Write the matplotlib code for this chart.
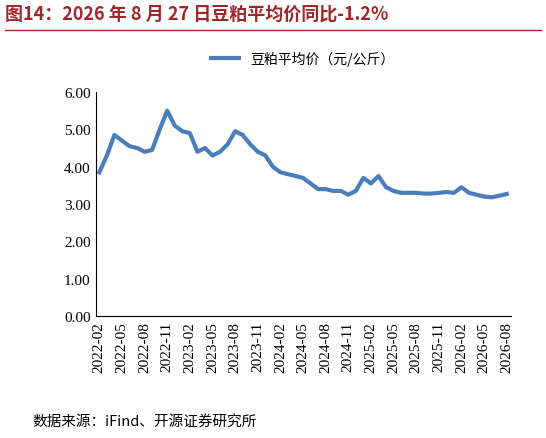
import matplotlib.pyplot as plt
import numpy as np

plt.rcParams['font.family'] = ['Noto Sans CJK SC', 'DejaVu Sans']

months = ['2022-02', '2022-03', '2022-04', '2022-05', '2022-06', '2022-07', '2022-08', '2022-09',
          '2022-10', '2022-11', '2022-12', '2023-01', '2023-02', '2023-03', '2023-04', '2023-05',
          '2023-06', '2023-07', '2023-08', '2023-09', '2023-10', '2023-11', '2023-12', '2024-01',
          '2024-02', '2024-03', '2024-04', '2024-05', '2024-06', '2024-07', '2024-08', '2024-09',
          '2024-10', '2024-11', '2024-12', '2025-01', '2025-02', '2025-03', '2025-04', '2025-05',
          '2025-06', '2025-07', '2025-08', '2025-09', '2025-10', '2025-11', '2025-12', '2026-01',
          '2026-02', '2026-03', '2026-04', '2026-05', '2026-06', '2026-07', '2026-08']
prices = [3.85, 4.3, 4.85, 4.7, 4.55, 4.5, 4.4, 4.45,
          5.0, 5.5, 5.1, 4.95, 4.9, 4.4, 4.5, 4.3,
          4.4, 4.6, 4.95, 4.85, 4.6, 4.4, 4.3, 4.0,
          3.85, 3.8, 3.75, 3.7, 3.55, 3.4, 3.4, 3.35,
          3.35, 3.25, 3.35, 3.7, 3.55, 3.75, 3.45, 3.35,
          3.3, 3.3, 3.3, 3.28, 3.28, 3.3, 3.32, 3.3,
          3.45, 3.3, 3.25, 3.2, 3.18, 3.22, 3.27]

x = np.arange(len(months))

fig = plt.figure(figsize=(5.46, 4.39), dpi=100)
ax = fig.add_axes([0.175, 0.278, 0.76, 0.51])
ax.plot(x, prices, color='#4a7ebb', linewidth=3, label='豆粕平均价（元/公斤）')
ax.set_ylim(0, 6)
ax.set_yticks(np.arange(0, 6.01, 1))
ax.set_yticklabels(['%.2f' % v for v in np.arange(0, 6.01, 1)],
                   family=['Times New Roman', 'Liberation Serif'], fontsize=11)
ax.set_xlim(-0.5, len(months) - 0.5)
ax.set_xticks(x[::3])
ax.set_xticklabels(months[::3], rotation=90, family=['Liberation Serif'], fontsize=11)
for s in ['top', 'right']:
    ax.spines[s].set_visible(False)
ax.tick_params(direction='in', length=0)
ax.legend(loc='upper center', bbox_to_anchor=(0.5, 1.24), frameon=False, fontsize=10)

fig.text(0.01, 0.955, '图14：2026 年 8 月 27 日豆粕平均价同比-1.2%', color='#a0282a',
         fontsize=13, fontweight='bold', family=['Noto Sans CJK SC'])
fig.add_artist(plt.Line2D([0.01, 0.99], [0.93, 0.93], color='#a0282a', linewidth=1))
fig.text(0.06, 0.03, '数据来源：iFind、开源证券研究所', fontsize=10.5)

fig.savefig('out.png', dpi=100)
